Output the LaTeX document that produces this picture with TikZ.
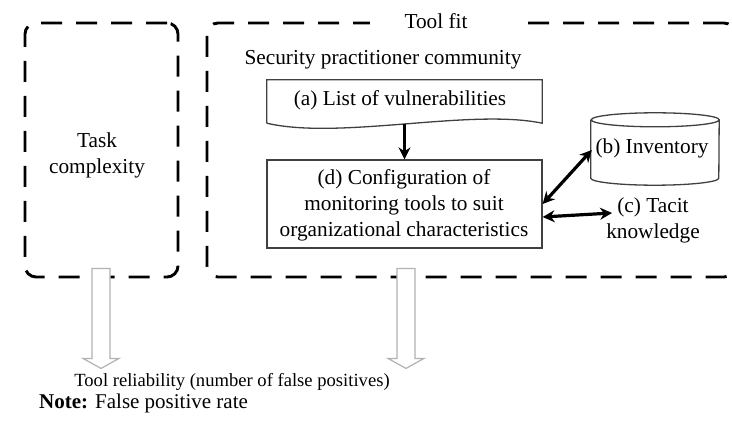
\documentclass[tikz,border=0pt]{standalone}
\usepackage{fontspec}
\setmainfont{Liberation Serif}
\usetikzlibrary{arrows.meta,calc}
\begin{document}
\begin{tikzpicture}[x=1pt,y=-1pt,
  every node/.style={font=\fontsize{21.3}{26}\selectfont, inner sep=0pt, align=center},
  dashbox/.style={draw, line width=2.9pt, dash pattern=on 21pt off 14pt, rounded corners=11pt},
  plainbox/.style={draw=black!75, line width=1.3pt},
  conn/.style={line width=3.2pt, -{Stealth[length=12pt,width=12pt]}},
  biconn/.style={line width=3.2pt, {Stealth[length=12pt,width=12pt]}-{Stealth[length=12pt,width=12pt]}},
  hollow/.style={draw=black!30, fill=white, line width=1.2pt, line join=miter}
]
\useasboundingbox (0,0) rectangle (732,422);
% outer dashed boxes
\node[dashbox, minimum width=153pt, minimum height=254pt] (L) at (101.5,150) {};
\node[dashbox, minimum width=528pt, minimum height=254pt] (R) at (471,150) {};
\node[fill=white, minimum width=150pt, minimum height=10pt] (tfgap) at (445,23) {};
\node (tf) at (436,21) {Tool fit};
\node (tc) at (97,155) {Task\\complexity};
\node (spc) at (383,60) {Security practitioner community};
% (a) document shape
\node[minimum width=275pt, minimum height=43pt] (a) at (404.5,101.5) {};
\draw[plainbox] (a.south west) -- (a.north west) -- (a.north east) -- (a.south east)
  .. controls ($(a.south east)+(-72,-15)$) and ($(a.south west)+(73,17)$) .. (a.south west);
\node at (400,100) {(a) List of vulnerabilities};
% (d)
\node[plainbox, minimum width=275pt, minimum height=88pt] (d) at (404.5,204) {};
\node at (404,205) {(d) Configuration of\\monitoring tools to suit\\organizational characteristics};
% (b) cylinder
\node[minimum width=128pt, minimum height=58pt] (b) at (655,149) {};
\draw[plainbox] (b.north west) -- (b.south west) arc[start angle=180, end angle=360, x radius=64pt, y radius=7pt]
  -- (b.north east) arc[start angle=0, end angle=360, x radius=64pt, y radius=7pt];
\node at (652,148) {(b) Inventory};
% (c)
\node (c) at (653,220) {(c) Tacit\\knowledge};
% connectors
\draw[conn] ($(a.south)+(0,1)$) -- (d.north);
\draw[biconn] (d.east) -- ($(b.west)+(1,1)$);
\draw[biconn] ($(d.east)+(0,13)$) -- ($(c.west)+(6,-7)$);
% bottom text
\node[font=\fontsize{18.6}{22}\selectfont] (rel) at (232,382) {Tool reliability (number of false positives)};
\node[anchor=west, font=\fontsize{21}{26}\selectfont] (note) at (39,403) {\textbf{Note:} False positive rate};
% hollow arrows
\draw[hollow] ($(L.south)+(-9.5,-10)$) -- ++(18,0) -- ++(0,90) -- ++(9,0) -- ++(-18,10) -- ++(-18,-10) -- ++(9,0) -- cycle;
\draw[hollow] ($(d.south |- R.south)+(-7.5,-10)$) -- ++(18,0) -- ++(0,90) -- ++(9,0) -- ++(-18,10) -- ++(-18,-10) -- ++(9,0) -- cycle;
\end{tikzpicture}
\end{document}
